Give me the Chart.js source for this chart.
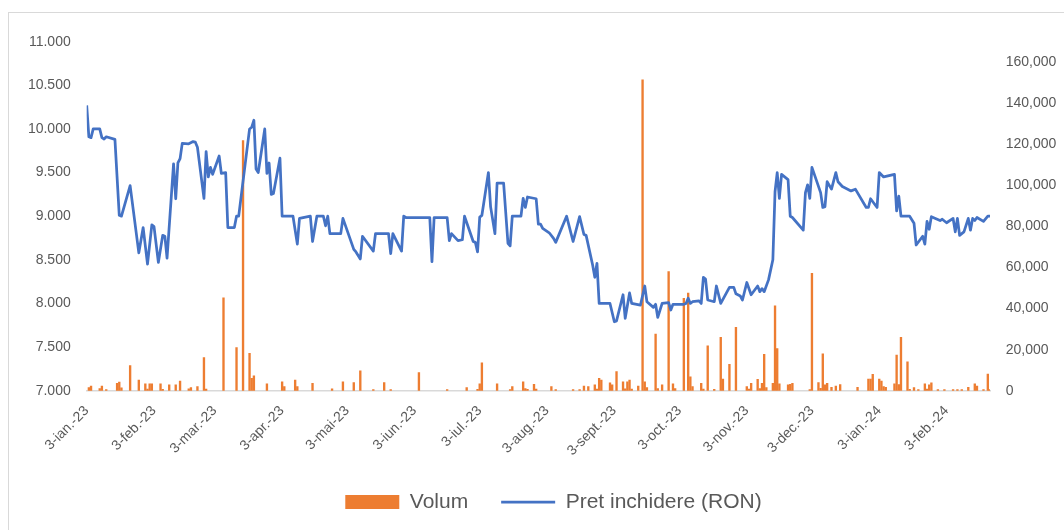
<!DOCTYPE html>
<html lang="ro">
<head>
<meta charset="utf-8">
<title>Volum si pret inchidere</title>
<script src="https://cdn.jsdelivr.net/npm/chart.js@4.4.1/dist/chart.umd.min.js"></script>
<style>
  html, body { margin: 0; padding: 0; background: #fff; }
  #wrap { position: relative; width: 1064px; height: 530px; overflow: hidden; }
  #frame { position: absolute; left: 8px; top: 12px; width: 1100px; height: 600px; border: 1px solid #d9d9d9; }
  #chart { position: absolute; left: 0; top: 0; }
</style>
</head>
<body>
<div id="wrap">
  <div id="frame"></div>
  <canvas id="chart" width="1064" height="530"></canvas>
</div>
<script>
// zile de la 3 ian. 2023 (ziua 0)
const priceDays = [
  0, 1, 2, 3, 6, 7, 8, 9, 13, 15, 16, 20, 24, 26, 28, 30, 31, 33, 35, 36,
  37, 40, 41, 42, 43, 44, 47, 49, 50, 51, 54, 55, 56, 57, 58, 61, 62, 64, 65, 68,
  69, 70, 75, 76, 77, 78, 79, 82, 83, 84, 85, 86, 89, 90, 95, 97, 98, 103, 104, 106,
  109, 110, 111, 112, 117, 118, 123, 124, 126, 127, 132, 133, 139, 140, 141, 145, 146, 147, 158, 159,
  160, 166, 167, 168, 171, 173, 174, 178, 179, 180, 181, 182, 185, 186, 188, 189, 192, 194, 195, 196,
  200, 201, 202, 203, 207, 208, 209, 210, 213, 215, 216, 221, 224, 227, 229, 230, 233, 234, 235, 236,
  241, 243, 244, 247, 248, 250, 251, 255, 257, 258, 261, 262, 263, 265, 268, 269, 270, 275, 276, 277,
  278, 279, 282, 283, 284, 285, 286, 289, 290, 292, 296, 298, 299, 301, 302, 304, 306, 309, 310, 311,
  312, 314, 316, 317, 318, 319, 320, 323, 324, 325, 330, 331, 332, 333, 334, 338, 339, 340, 341, 343,
  345, 346, 348, 352, 354, 359, 360, 361, 364, 365, 367, 372, 373, 374, 375, 379, 381, 382, 385, 386,
  387, 388, 389, 393, 394, 396, 399, 400, 401, 402, 404, 406, 407, 408, 409, 410, 413, 415, 416
];
const priceValues = [
  10.27, 9.91, 9.90, 10.00, 10.00, 9.90, 9.885, 9.91, 9.88, 9.01, 9.00, 9.35, 8.58, 8.87, 8.45, 8.90, 8.88, 8.47, 8.78, 8.77,
  8.52, 9.60, 9.20, 9.61, 9.66, 9.835, 9.83, 9.855, 9.85, 9.79, 9.205, 9.74, 9.45, 9.56, 9.48, 9.69, 9.49, 9.50, 8.87, 8.87,
  9.00, 9.00, 10.00, 10.02, 10.10, 9.54, 9.50, 10.00, 9.49, 9.61, 9.25, 9.26, 9.665, 9.00, 9.00, 8.68, 8.975, 9.00, 8.71, 9.00,
  9.00, 8.89, 9.00, 8.80, 8.80, 8.975, 8.62, 8.59, 8.51, 8.77, 8.60, 8.80, 8.80, 8.57, 8.80, 8.60, 9.00, 8.985, 8.985, 8.48,
  8.985, 8.985, 8.72, 8.80, 8.72, 8.73, 9.00, 8.71, 8.70, 8.59, 8.99, 9.01, 9.50, 9.11, 8.80, 9.38, 9.38, 8.69, 8.66, 9.00,
  9.00, 9.205, 9.10, 9.22, 9.20, 8.91, 8.91, 8.86, 8.81, 8.745, 8.70, 9.00, 8.71, 8.995, 8.79, 8.78, 8.44, 8.30, 8.46, 8.00,
  8.00, 7.79, 7.80, 8.10, 7.83, 8.12, 8.00, 7.98, 8.20, 8.02, 7.955, 7.99, 7.84, 8.00, 8.01, 7.925, 7.99, 7.99, 8.00, 8.06,
  8.00, 8.02, 8.03, 8.00, 8.30, 8.28, 8.04, 8.02, 8.20, 8.00, 8.185, 8.185, 8.11, 8.085, 8.04, 8.24, 8.10, 8.20, 8.135, 8.17,
  8.135, 8.27, 8.50, 9.28, 9.50, 9.205, 9.48, 9.42, 9.00, 8.985, 8.84, 9.27, 9.36, 9.205, 9.56, 9.27, 9.10, 9.11, 9.395, 9.31,
  9.50, 9.395, 9.34, 9.29, 9.31, 9.10, 9.10, 9.20, 9.10, 9.50, 9.45, 9.48, 9.06, 9.23, 9.00, 9.00, 8.92, 8.67, 8.77, 8.68,
  8.94, 8.85, 8.995, 8.95, 8.965, 8.925, 8.975, 8.82, 8.975, 8.78, 8.82, 8.975, 8.84, 8.975, 8.95, 8.985, 8.94, 9.00, 9.00
];

const volumeDays = [
  1, 2, 6, 7, 9, 14, 15, 16, 20, 24, 27, 28, 29, 30, 34, 35, 38, 41, 43, 47,
  48, 51, 54, 55, 63, 69, 72, 75, 76, 77, 83, 90, 91, 96, 97, 104, 113, 118, 123, 126,
  132, 137, 140, 153, 166, 175, 180, 181, 182, 189, 195, 196, 201, 202, 203, 206, 207, 214, 216, 224,
  227, 229, 231, 234, 235, 236, 237, 241, 242, 244, 247, 248, 249, 250, 251, 254, 256, 257, 258, 262,
  263, 265, 268, 270, 271, 275, 277, 278, 279, 283, 284, 286, 289, 292, 293, 296, 299, 304, 305, 306,
  309, 310, 311, 312, 313, 316, 317, 318, 319, 323, 324, 325, 333, 334, 337, 338, 339, 340, 341, 343,
  345, 347, 355, 360, 361, 362, 365, 366, 367, 368, 372, 373, 374, 375, 378, 379, 381, 383, 386, 387,
  388, 389, 392, 395, 399, 401, 403, 406, 409, 410, 413, 415, 416
];
const volumeValues = [
  1500, 2300, 1000, 2300, 600, 3600, 4200, 1400, 12200, 5200, 3300, 800, 3300, 3300, 3300, 700, 2800, 2800, 4700, 900,
  1500, 2000, 16100, 800, 45200, 21000, 121800, 18200, 6000, 7300, 3300, 4300, 2000, 5200, 2000, 3600, 900, 4300, 4000, 9700,
  500, 4000, 600, 8800, 500, 1500, 700, 3300, 13600, 3300, 600, 2000, 4300, 1000, 700, 3100, 800, 2000, 600, 500,
  600, 2300, 2000, 2800, 800, 6000, 5200, 3800, 2800, 9300, 4300, 900, 4300, 5200, 800, 2300, 151400, 4300, 1500, 27600,
  1000, 2800, 58000, 3300, 1000, 45000, 47500, 6800, 2000, 3600, 800, 21900, 700, 26000, 5700, 12900, 30900, 2000, 800, 3600,
  5500, 1000, 3600, 17700, 1500, 3600, 41400, 20500, 3400, 2800, 3100, 3600, 600, 57200, 3900, 1200, 17900, 2800, 3600, 1600,
  2300, 3000, 1600, 5700, 5700, 8000, 5700, 4700, 2000, 1600, 3300, 17400, 3000, 26000, 14100, 700, 1500, 500, 3300, 800,
  2800, 3800, 500, 500, 500, 500, 500, 1600, 3300, 2300, 500, 8100, 500
];

const tickDays = [0, 31, 59, 90, 120, 151, 181, 212, 243, 273, 304, 334, 365, 396];
const tickLabels = ['3-ian.-23', '3-feb.-23', '3-mar.-23', '3-apr.-23', '3-mai-23', '3-iun.-23', '3-iul.-23',
  '3-aug.-23', '3-sept.-23', '3-oct.-23', '3-nov.-23', '3-dec.-23', '3-ian.-24', '3-feb.-24'];
const volumeTicks = [0, 20000, 40000, 60000, 80000, 100000, 120000, 140000, 160000];

const axisFont = { family: 'Liberation Sans', size: 14 };
const axisColor = '#595959';

new Chart(document.getElementById('chart'), {
  type: 'bar',
  data: {
    datasets: [{
      type: 'bar',
      label: 'Volum',
      data: volumeDays.map((d, i) => ({ x: d, y: volumeValues[i] })),
      backgroundColor: '#ED7D31',
      borderWidth: 0,
      barThickness: 1.7,
      yAxisID: 'y1',
      order: 1
    }, {
      type: 'line',
      label: 'Pret inchidere (RON)',
      data: priceDays.map((d, i) => ({ x: d, y: priceValues[i] })),
      borderColor: '#4472C4',
      backgroundColor: '#4472C4',
      borderWidth: 2.75,
      borderJoinStyle: 'round',
      pointRadius: 0,
      tension: 0,
      yAxisID: 'y',
      order: 0
    }]
  },
  options: {
    responsive: false,
    animation: false,
    // padding dreapta negativ: centreaza legenda ca in original
    layout: { padding: { top: 41.7, left: 20, right: -23, bottom: 7.5 } },
    plugins: {
      tooltip: { enabled: false },
      legend: {
        position: 'bottom',
        labels: {
          usePointStyle: true,
          pointStyleWidth: 54,
          boxHeight: 14,
          padding: 33,
          color: axisColor,
          font: { family: 'Liberation Sans', size: 21 },
          generateLabels: (chart) => {
            const items = Chart.defaults.plugins.legend.labels.generateLabels(chart);
            items.forEach(it => { it.pointStyle = it.datasetIndex === 0 ? 'rect' : 'line'; });
            return items.sort((a, b) => a.datasetIndex - b.datasetIndex);
          }
        }
      }
    },
    scales: {
      x: {
        type: 'linear',
        min: 0,
        max: 416,
        offset: false,
        grid: { display: false, drawTicks: false },
        border: { color: '#d9d9d9', width: 1.5 },
        afterBuildTicks: (scale) => { scale.ticks = tickDays.map(v => ({ value: v })); },
        afterFit: (scale) => { scale.height = 67.8; },
        ticks: {
          autoSkip: false,
          minRotation: 45,
          maxRotation: 45,
          padding: 12,
          color: axisColor,
          font: axisFont,
          callback: (value, index) => tickLabels[index]
        }
      },
      y: {
        position: 'left',
        min: 7,
        max: 11,
        grid: { display: false, drawTicks: false },
        border: { display: false },
        afterFit: (scale) => { scale.width = 66.7; },
        ticks: {
          stepSize: 0.5,
          padding: 16,
          color: axisColor,
          font: axisFont,
          callback: (value) => value.toFixed(3)
        }
      },
      y1: {
        position: 'right',
        min: 0,
        max: 170000,
        grid: { display: false, drawTicks: false },
        border: { display: false },
        afterBuildTicks: (scale) => { scale.ticks = volumeTicks.map(v => ({ value: v })); },
        afterFit: (scale) => { scale.width = 97; },
        ticks: {
          padding: 15.7,
          color: axisColor,
          font: axisFont,
          callback: (value) => value.toLocaleString('en-US')
        }
      }
    }
  }
});
</script>
</body>
</html>
